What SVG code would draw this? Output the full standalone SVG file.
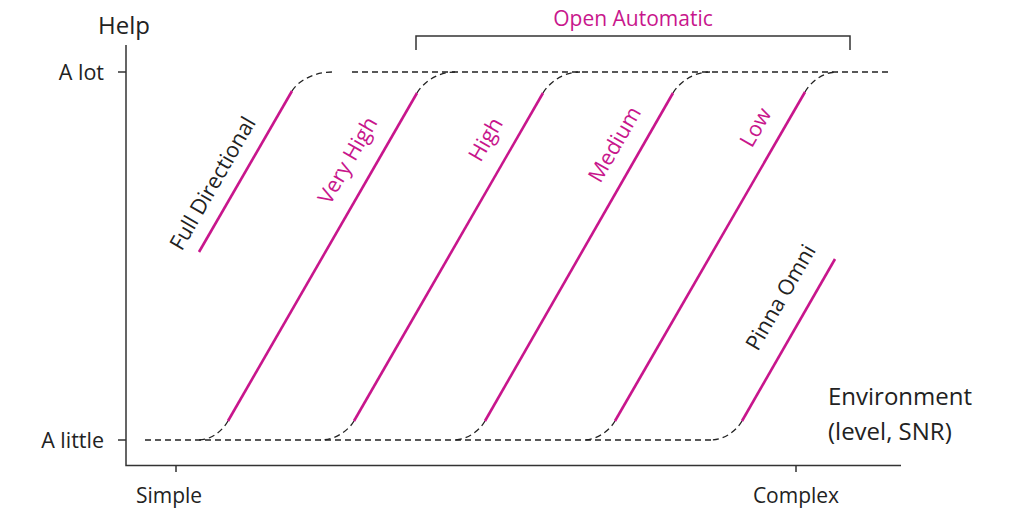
<svg xmlns="http://www.w3.org/2000/svg" width="1013" height="512" viewBox="0 0 1013 512">
<style>
text{font-family:"Open Sans","Noto Sans","Liberation Sans",sans-serif;fill:#222}
.m{fill:#c8168c}
.axis{stroke:#333;stroke-width:1.5;fill:none}
.dash{stroke:#222;stroke-width:1.3;fill:none;stroke-dasharray:6 4}
.mag{stroke:#c8168c;stroke-width:2.6;fill:none;stroke-linecap:butt}
.rot{font-size:21.5px}
</style>
<rect width="1013" height="512" fill="#fff"/>
<g id="axes">
<path class="axis" d="M126,45V465.5H901"/>
<path class="axis" d="M118,72H126M118,440H126M176,465.5V472M796,465.5V472"/>
<text x="98" y="34" font-size="24">Help</text>
<text x="104" y="80" font-size="21.5" text-anchor="end">A lot</text>
<text x="104" y="448" font-size="21.5" text-anchor="end">A little</text>
<text x="169" y="503" font-size="21" text-anchor="middle">Simple</text>
<text x="796" y="503" font-size="21" text-anchor="middle">Complex</text>
<text x="828" y="405" font-size="24">Environment</text>
<text x="828" y="440" font-size="24">(level, SNR)</text>
</g>
<g id="open-automatic">
<path class="axis" d="M416,50V36H850V50"/>
<text class="m" x="633" y="26" font-size="21" text-anchor="middle">Open Automatic</text>
</g>
<g id="connectors">
<path class="dash" d="M352,72H892"/>
<path class="dash" d="M145,440H712"/>
<path class="dash" d="M292,91C296,84 310,72 333,72"/>
<path class="dash" d="M417,93C421,86 434,72 455,72"/>
<path class="dash" d="M543,93C547,86 560,72 580,72"/>
<path class="dash" d="M673,93C677,86 690,72 710,72"/>
<path class="dash" d="M805,92C809,85 820,72 838,72"/>
<path class="dash" d="M228,421C224,428 214,440 198,440"/>
<path class="dash" d="M354,421C350,428 338,440 320,440"/>
<path class="dash" d="M485,421C481,428 470,440 453,440"/>
<path class="dash" d="M615,421C611,428 600,440 582,440"/>
<path class="dash" d="M742,421C738,428 727,440 710,440"/>
</g>
<g id="full-directional">
<path class="mag" d="M199,252L292,91"/>
<text class="rot" transform="translate(219,187) rotate(-60)" text-anchor="middle">Full Directional</text>
</g>
<g id="very-high">
<path class="mag" d="M228,421L417,93"/>
<text class="m rot" transform="translate(354,164) rotate(-60)" text-anchor="middle">Very High</text>
</g>
<g id="high">
<path class="mag" d="M354,421L543,93"/>
<text class="m rot" transform="translate(492,143) rotate(-60)" text-anchor="middle">High</text>
</g>
<g id="medium">
<path class="mag" d="M485,421L673,93"/>
<text class="m rot" transform="translate(621,148) rotate(-60)" text-anchor="middle">Medium</text>
</g>
<g id="low">
<path class="mag" d="M615,421L805,92"/>
<text class="m rot" transform="translate(762,131) rotate(-60)" text-anchor="middle">Low</text>
</g>
<g id="pinna-omni">
<path class="mag" d="M742,421L835,259"/>
<text class="rot" transform="translate(787,301) rotate(-60)" text-anchor="middle">Pinna Omni</text>
</g>
</svg>
